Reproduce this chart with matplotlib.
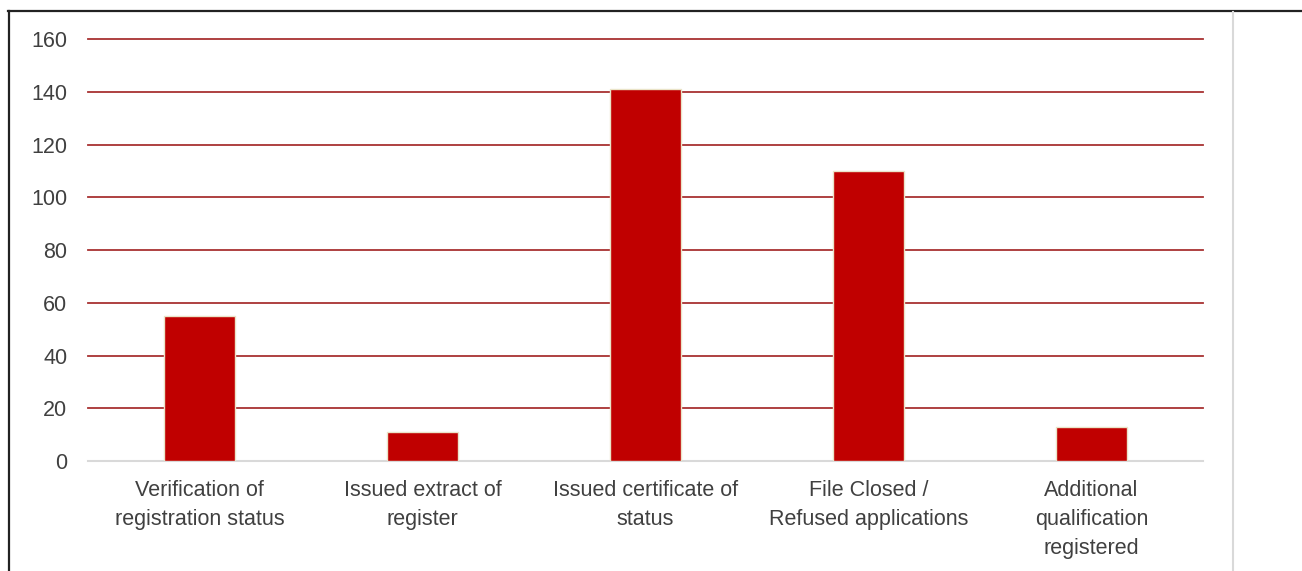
import matplotlib
matplotlib.use("Agg")
import matplotlib.pyplot as plt
from matplotlib.lines import Line2D

categories = ["Verification of\nregistration status",
              "Issued extract of\nregister",
              "Issued certificate of\nstatus",
              "File Closed /\nRefused applications",
              "Additional\nqualification\nregistered"]
values = [55, 11, 141, 110, 13]
yticks = [0, 20, 40, 60, 80, 100, 120, 140, 160]

plt.rcParams['font.family'] = ['Liberation Sans', 'DejaVu Sans']

fig = plt.figure(figsize=(13.02, 5.71), dpi=100)
ax = fig.add_axes([0.0676, 0.1926, 0.8564, 0.739])

x = list(range(len(categories)))
ax.bar(x, values, width=0.32, color='#C00000', edgecolor='#EAE4C8', linewidth=1.0, zorder=3)

for t in yticks[1:]:
    ax.axhline(t, color='#A83232', linewidth=1.3, zorder=1, clip_on=False)
ax.axhline(0, color='#D9D9D9', linewidth=1.5, zorder=2, clip_on=False)

ax.set_xlim(-0.5, len(categories) - 0.5)
ax.set_ylim(0, 160)
ax.set_yticks(yticks)
ax.set_yticklabels([str(t) for t in yticks])
ax.set_xticks(x)
ax.set_xticklabels(categories, linespacing=1.48)
ax.tick_params(axis='y', length=0, pad=15, labelsize=15.5, labelcolor='#404040')
ax.tick_params(axis='x', length=0, pad=14, labelsize=15.5, labelcolor='#404040')
for s in ax.spines.values():
    s.set_visible(False)

# outer frame lines
fig.add_artist(Line2D([9/1302, 9/1302], [0, 1 - 11/571], transform=fig.transFigure,
                      color='#222222', linewidth=1.6))
fig.add_artist(Line2D([8/1302, 1.0], [1 - 11/571, 1 - 11/571], transform=fig.transFigure,
                      color='#222222', linewidth=1.6))
fig.add_artist(Line2D([1233/1302, 1233/1302], [0, 1 - 12/571], transform=fig.transFigure,
                      color='#D9D9D9', linewidth=1.5))

fig.savefig("out.png", dpi=100)
